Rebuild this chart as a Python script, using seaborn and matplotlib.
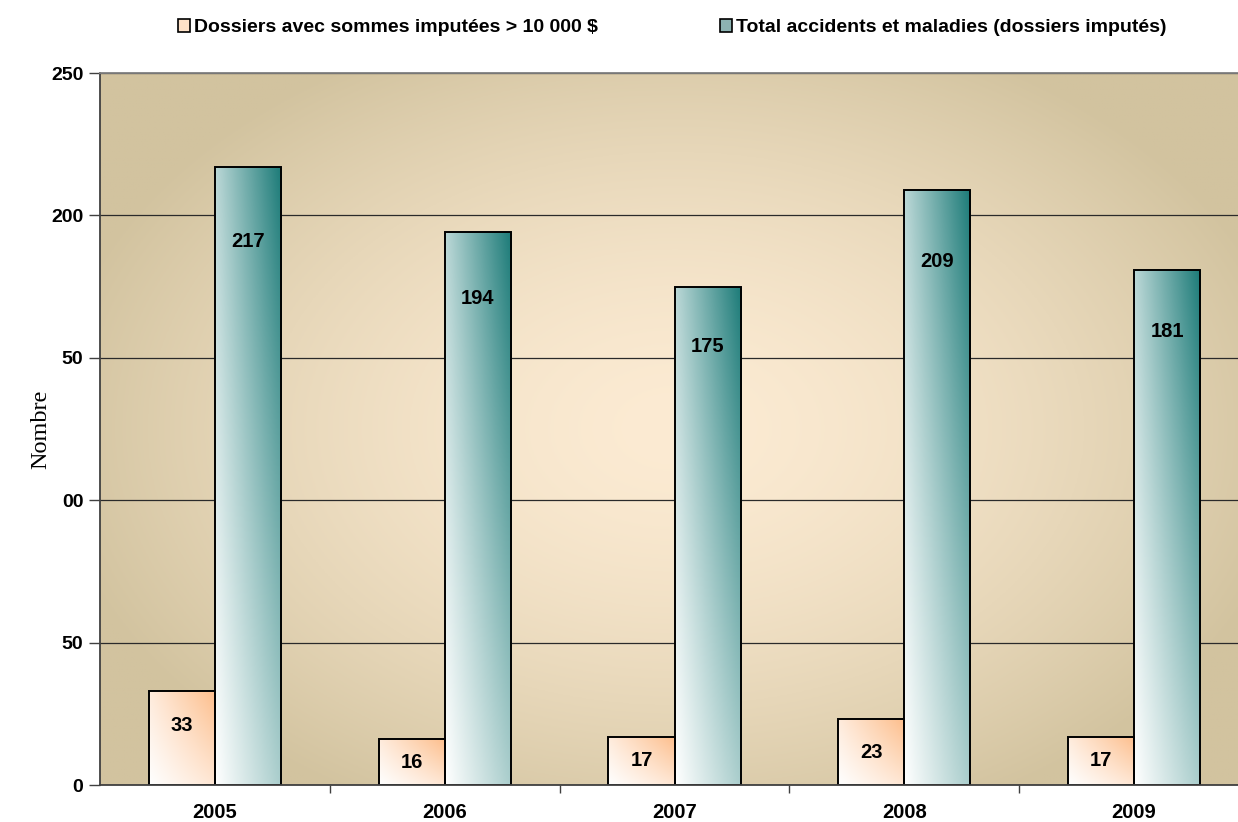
import numpy as np
import pandas as pd
import matplotlib
matplotlib.use('Agg')
import matplotlib.pyplot as plt
from matplotlib.patches import Patch
from matplotlib.colors import to_rgb
import seaborn as sns

# Données
annees = ['2005', '2006', '2007', '2008', '2009']
dossiers_10000 = [33, 16, 17, 23, 17]
total_imputes = [217, 194, 175, 209, 181]
series = ['Dossiers avec sommes imputées > 10 000 $',
          'Total accidents et maladies (dossiers imputés)']
# étiquettes de l'axe y telles qu'affichées (tronquées dans l'original)
etiquettes_y = ['0', '50', '00', '50', '200', '250']

df = pd.DataFrame({
    'annee': annees * 2,
    'valeur': dossiers_10000 + total_imputes,
    'serie': [series[0]] * len(annees) + [series[1]] * len(annees),
})

couleur_orange = to_rgb('#FDBE8C')
couleur_sarcelle = to_rgb('#1C7B78')
fond_centre = np.array(to_rgb('#FCEBD3'))
fond_bord = np.array(to_rgb('#D2C39F'))

sns.set_style('white')
plt.rcParams['font.family'] = ['Liberation Sans', 'DejaVu Sans']
plt.rcParams['text.color'] = 'black'
plt.rcParams['axes.labelcolor'] = 'black'
plt.rcParams['xtick.color'] = 'black'
plt.rcParams['ytick.color'] = 'black'

fig = plt.figure(figsize=(12.38, 8.22), dpi=100)
# la zone de tracé déborde à droite, comme dans l'original (image recadrée)
ax = fig.add_axes([100 / 1238, 1 - 785 / 822, 1149 / 1238, 712 / 822])

sns.barplot(data=df, x='annee', y='valeur', hue='serie', ax=ax, width=0.575,
            palette=[couleur_orange, couleur_sarcelle], edgecolor='black',
            linewidth=1.4, legend=False)

ax.set_xlim(-0.5, 4.5)
ax.set_ylim(0, 250)

# Fond en dégradé radial
ny, nx = 300, 400
yy, xx = np.mgrid[0:1:ny * 1j, 0:1:nx * 1j]
r = np.sqrt(((xx - 0.5) / 0.55) ** 2 + ((yy - 0.5) / 0.6) ** 2)
t = np.clip(r, 0, 1) ** 1.6
fond = fond_centre * (1 - t[..., None]) + fond_bord * t[..., None]
ax.imshow(fond, extent=(-0.5, 4.5, 0, 250), aspect='auto', zorder=0, origin='lower')

# Dégradé dans chaque barre (blanc en bas à gauche -> couleur en haut à droite)
gx, gy = np.meshgrid(np.linspace(0, 1, 60), np.linspace(0, 1, 120))
tt = np.clip(0.38 * gx + 0.3 * gy + 0.32 * gx * gy, 0, 1)[..., None]
for i, patch in enumerate(ax.patches):
    x0, y0 = patch.get_x(), patch.get_y()
    w, h = patch.get_width(), patch.get_height()
    if h <= 0:
        continue
    couleur = np.array(couleur_orange if i < len(annees) else couleur_sarcelle)
    img = np.ones(3) * (1 - tt) + couleur * tt
    im = ax.imshow(img, extent=(x0, x0 + w, y0, y0 + h), aspect='auto',
                   origin='lower', zorder=1.5)
    im.set_clip_path(patch)
    patch.set_facecolor('none')
    patch.set_zorder(2)

ax.set_xlim(-0.5, 4.5)
ax.set_ylim(0, 250)

# Étiquettes de valeurs
largeur = ax.patches[0].get_width()
for i, annee in enumerate(annees):
    v1 = dossiers_10000[i]
    v2 = total_imputes[i]
    ax.text(i - largeur / 2, max(v1 - 12, v1 / 2), str(v1), ha='center', va='center',
            fontsize=14.5, fontweight='bold', zorder=3)
    ax.text(i + largeur / 2, v2 * 0.88, str(v2), ha='center', va='center',
            fontsize=14.5, fontweight='bold', zorder=3)

# Grille et axes
ax.set_yticks([0, 50, 100, 150, 200, 250])
ax.set_yticklabels(etiquettes_y, fontsize=14, fontweight='bold')
ax.yaxis.grid(True, color='#2A2A2A', linewidth=0.9)
ax.set_axisbelow(True)
ax.tick_params(axis='y', length=8, width=1, color='#404040', direction='out', left=True, pad=4)
ax.set_xticks(range(len(annees)))
ax.set_xticklabels(annees, fontsize=14.5, fontweight='bold')
ax.tick_params(axis='x', which='major', length=0, pad=13)
ax.set_xticks([0.5, 1.5, 2.5, 3.5, 4.5], minor=True)
ax.tick_params(axis='x', which='minor', length=6, width=1, color='#404040',
               direction='out', bottom=True)
ax.set_xlabel('')
ax.set_ylabel('Nombre', fontsize=17.5, family=['Liberation Serif', 'DejaVu Serif'], labelpad=0)

for s in ['left', 'bottom']:
    ax.spines[s].set_color('#404040')
    ax.spines[s].set_linewidth(1.3)
ax.spines['top'].set_color('#808080')
ax.spines['top'].set_linewidth(1.3)
ax.spines['right'].set_visible(False)

# Légende
poignees = [Patch(facecolor='#FEE2C8', edgecolor='black', linewidth=1.2),
            Patch(facecolor='#8DB3B2', edgecolor='black', linewidth=1.2)]
fig.legend(poignees, series, loc='upper center', bbox_to_anchor=(0.543, 0.998), ncol=2,
           frameon=False, prop={'weight': 'bold', 'size': 14}, handlelength=0.62,
           handleheight=0.62, handletextpad=0.2, columnspacing=6.3)

fig.savefig('out.png', dpi=100)
